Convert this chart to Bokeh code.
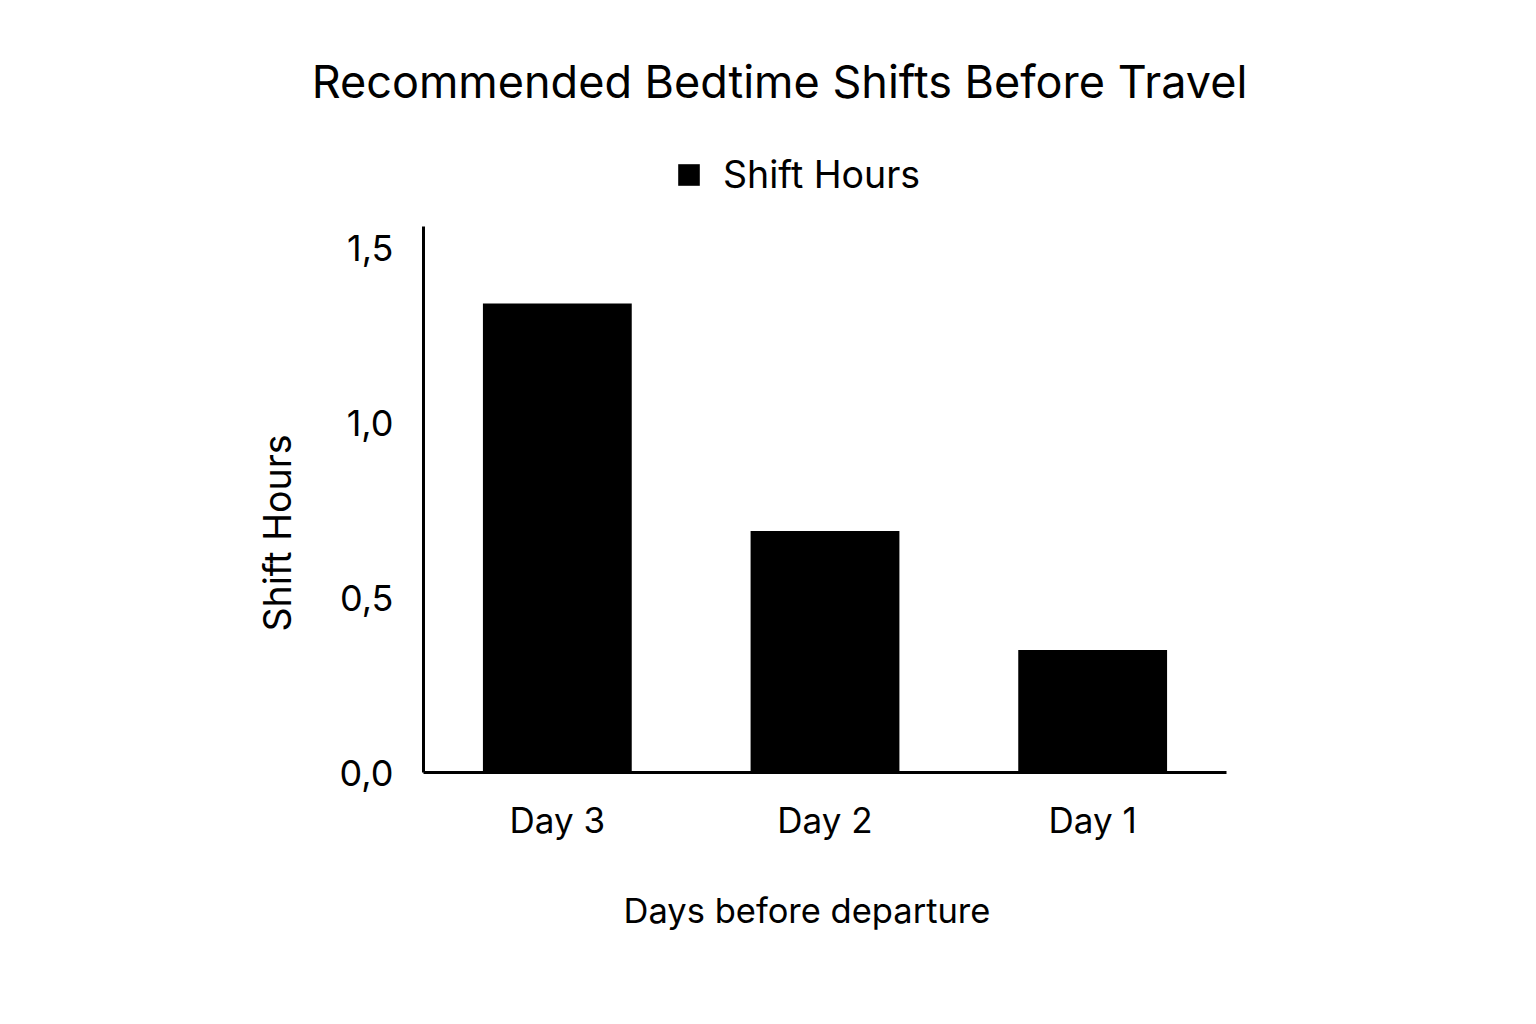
import math
from bokeh.plotting import figure
from bokeh.models import (Legend, LegendItem, FixedTicker, FactorRange, Range1d,
                          ColumnDataSource, Label)
from bokeh.embed import file_html
from bokeh.resources import INLINE

# ---- data ----
days = ["Day 3", "Day 2", "Day 1"]
shift_hours = [1.34, 0.69, 0.35]
y_ticks = [0.0, 0.5, 1.0, 1.5]
y_tick_labels = ["0,0", "0,5", "1,0", "1,5"]
title_text = "Recommended Bedtime Shifts Before Travel"
series_name = "Shift Hours"
x_label = "Days before departure"
y_label = "Shift Hours"

FONT = "Inter"

# ---- layout geometry (pixels) ----
W, H = 1499, 1008
FRAME_LEFT, FRAME_BOTTOM = 150, 936          # frame spans x 150..W, y 0..936
AXIS_X, AXIS_Y = 423, 772                    # where the visible axes sit
PX_PER_UNIT = 350.0
CAT_W = (1226 - AXIS_X) / len(days)
pad = (AXIS_X - FRAME_LEFT) / CAT_W          # padding per side, in factors
Y_TOP = 1.56

src = ColumnDataSource(dict(day=days, hours=shift_hours))

p = figure(
    width=W, height=H,
    x_range=FactorRange(factors=days, range_padding=pad,
                        range_padding_units="absolute"),
    y_range=Range1d(-(FRAME_BOTTOM - AXIS_Y) / PX_PER_UNIT, AXIS_Y / PX_PER_UNIT),
    output_backend="svg", toolbar_location=None,
    min_border_left=FRAME_LEFT, min_border_right=0,
    min_border_top=0, min_border_bottom=H - FRAME_BOTTOM,
    title=None,
)
p.outline_line_color = None
p.background_fill_color = "white"
p.border_fill_color = "white"
p.xgrid.grid_line_color = None
p.ygrid.grid_line_color = None

r = p.vbar(x="day", top="hours", width=0.556, source=src,
           fill_color="black", line_color=None)

# axes
for ax in (p.xaxis[0], p.yaxis[0]):
    ax.axis_line_color = "black"
    ax.axis_line_width = 3
    ax.major_tick_line_color = None
    ax.minor_tick_line_color = None
    ax.major_tick_out = 0
    ax.major_tick_in = 0
    ax.major_label_text_font = FONT
    ax.major_label_text_color = "black"
    ax.fixed_location = 0

p.yaxis.bounds = (0, Y_TOP)
p.xaxis.bounds = (0, len(days))
p.yaxis.ticker = FixedTicker(ticks=y_ticks)
p.yaxis.major_label_overrides = {t: l for t, l in zip(y_ticks, y_tick_labels)}
p.yaxis.major_label_text_font_size = "36px"
p.yaxis.major_label_standoff = 30
p.xaxis.major_label_text_font_size = "35px"
p.xaxis.major_label_standoff = 26


def lab(text, x, y, size, angle=0.0):
    # x, y: page pixels; converted to frame-relative screen units
    return Label(x=x - FRAME_LEFT, y=FRAME_BOTTOM - y, x_units="screen", y_units="screen",
                 text=text, text_font=FONT, text_font_size=size, angle=angle,
                 text_align="center", text_baseline="alphabetic", text_color="black")


p.add_layout(lab(title_text, 779, 81, "45px"))
p.add_layout(lab(x_label, 806.5, 910, "34.5px"))
p.add_layout(lab(y_label, 277, 532.5, "37.5px", angle=math.pi / 2))

legend = Legend(items=[LegendItem(label=series_name, renderers=[r])],
                location=(675 - FRAME_LEFT, FRAME_BOTTOM - 197),
                orientation="horizontal",
                glyph_width=27, glyph_height=27, label_standoff=21,
                label_height=46,
                label_text_font=FONT, label_text_font_size="37.5px",
                label_text_color="black",
                padding=0, margin=0, spacing=0,
                border_line_color=None, background_fill_alpha=0)
p.add_layout(legend, "center")

open("out.html", "w").write(file_html(p, INLINE))
